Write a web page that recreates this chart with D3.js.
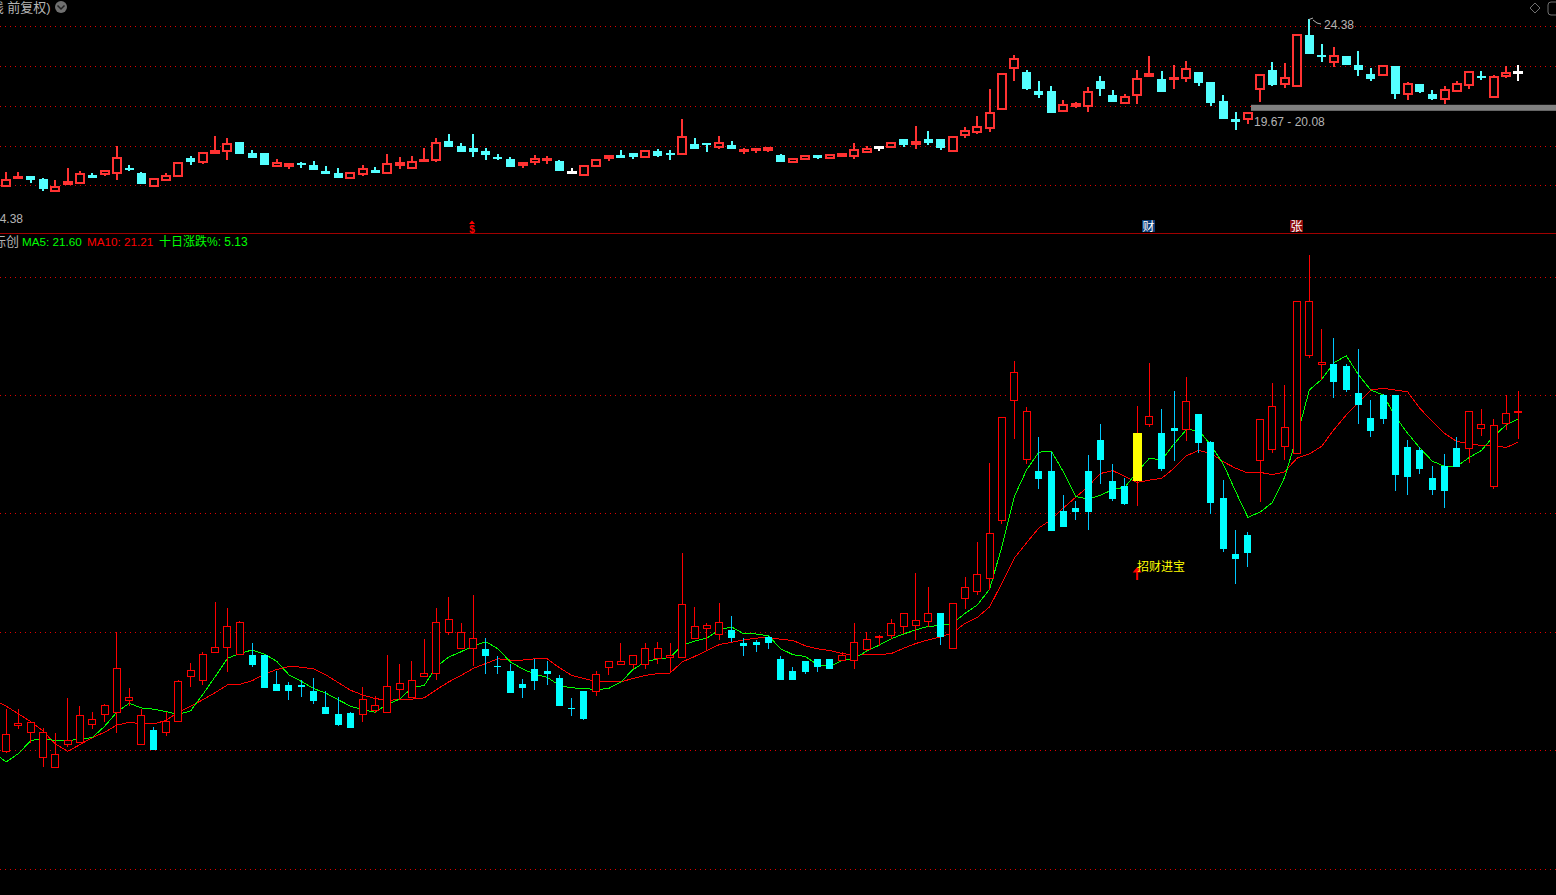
<!DOCTYPE html>
<html><head><meta charset="utf-8">
<script src="https://cdn.jsdelivr.net/npm/d3@7/dist/d3.min.js"></script>
<style>
html,body{margin:0;padding:0;background:#000;overflow:hidden}
svg{display:block}
text{font-family:"Liberation Sans","Noto Sans CJK SC",sans-serif}
</style></head><body>
<script>
const opens=[15.99,16.42,16.31,15.89,15.72,16.11,16.13,16.44,16.61,16.64,16.85,16.11,16.34,16.31,16.50,17.25,17.19,17.66,17.75,17.63,
17.62,17.62,17.13,17.11,17.11,17.00,16.73,16.61,16.64,16.61,16.68,16.65,17.04,16.90,17.25,17.31,18.00,17.73,17.73,17.72,
17.43,17.35,17.13,17.37,17.35,17.23,16.72,17.00,16.99,17.41,17.45,17.46,17.46,17.55,17.58,17.58,17.90,18.07,17.96,18.03,
17.81,17.84,17.92,17.54,17.35,17.52,17.55,17.54,17.52,17.52,17.70,17.93,17.94,18.10,18.12,18.18,18.33,17.73,18.57,18.69,
18.91,19.88,21.91,20.92,20.73,20.73,20.05,20.10,20.73,21.25,20.56,20.47,20.56,21.51,21.37,21.45,21.43,21.69,21.21,20.27,
19.32,19.65,20.90,21.09,21.14,21.02,22.68,22.52,22.53,22.50,22.04,21.62,22.01,22.01,21.13,21.08,20.61,20.81,21.11,21.10,
21.44,20.46,21.53,21.73];
const highs=[16.71,16.71,16.48,16.38,16.29,16.89,16.76,16.66,16.79,18.01,17.06,16.70,16.40,16.66,17.20,17.48,17.66,18.51,18.41,18.19,
17.81,17.62,17.35,17.16,17.20,17.23,17.00,16.91,16.65,17.07,16.93,17.62,17.47,17.51,17.89,18.41,18.60,18.15,18.63,17.90,
17.59,17.47,17.21,17.54,17.52,17.28,16.89,17.00,17.35,17.51,17.81,17.61,17.81,17.84,17.81,19.34,18.43,18.16,18.50,18.28,
17.90,17.86,17.94,17.59,17.42,17.52,17.55,17.54,17.67,18.16,18.01,17.96,18.23,18.32,19.00,18.77,18.33,18.48,18.94,19.53,
20.86,21.63,22.58,21.81,21.30,21.05,20.32,20.22,21.00,21.52,20.84,20.61,21.82,22.55,21.77,22.08,22.31,21.69,21.23,20.57,
19.73,19.70,21.60,22.21,22.18,23.59,24.38,23.12,22.97,22.53,22.78,21.92,22.03,22.01,21.25,21.13,20.81,21.01,21.30,21.73,
21.77,21.60,22.01,22.08];
const lows=[15.96,16.37,16.13,15.72,15.72,16.06,16.13,16.37,16.48,16.29,16.75,16.11,16.01,16.24,16.50,17.07,17.10,17.66,17.32,17.63,
17.42,17.05,17.00,16.86,16.91,16.79,16.61,16.42,16.39,16.49,16.64,16.65,16.86,16.90,17.25,17.20,17.95,17.73,17.43,17.30,
17.30,16.98,16.89,17.03,17.11,16.76,16.59,16.52,16.93,17.27,17.45,17.37,17.38,17.47,17.31,17.58,17.90,17.70,17.87,17.84,
17.59,17.67,17.72,17.20,17.20,17.30,17.33,17.38,17.52,17.37,17.69,17.76,17.89,17.97,17.87,18.08,17.79,17.73,18.40,18.63,
18.72,19.83,21.27,20.84,20.42,19.71,19.78,19.90,19.73,20.51,20.22,20.15,20.14,21.47,20.73,20.89,21.23,21.03,20.00,19.36,
18.82,19.10,20.20,21.03,20.91,21.02,22.63,22.26,21.96,22.06,21.52,21.30,21.52,20.39,20.32,20.67,20.32,20.10,20.79,20.86,
21.32,20.42,21.42,21.27];
const closes=[16.28,16.45,16.47,16.31,15.94,16.17,16.60,16.53,16.77,17.39,16.89,16.60,16.01,16.50,17.16,17.36,17.63,17.75,18.10,18.17,
17.45,17.05,17.00,17.01,17.08,16.84,16.61,16.44,16.39,16.87,16.77,17.09,17.14,17.19,17.31,18.17,18.21,18.00,17.90,17.59,
17.42,16.98,17.05,17.18,17.30,16.76,16.72,16.54,17.29,17.51,17.51,17.61,17.73,17.73,17.61,18.46,18.10,18.12,18.17,17.90,
17.77,17.79,17.81,17.20,17.20,17.33,17.42,17.38,17.60,17.82,17.87,17.93,18.15,18.32,18.19,18.32,17.92,18.48,18.75,18.97,
19.67,21.63,22.39,21.72,20.59,19.71,19.78,20.03,20.03,20.91,20.25,20.17,21.37,21.65,20.76,21.40,21.90,21.20,20.19,19.41,
19.24,19.34,21.60,21.82,21.45,23.59,23.59,22.56,22.23,22.09,21.84,21.40,21.60,20.66,20.62,20.76,20.40,20.39,20.79,21.72,
21.51,21.50,21.70,21.73];
// Colour of each bar in the upper panel: r = up, c = down, w = unchanged
const upperTone=("rrccrrrcrr"+"ccrrrcrrrc"+"ccrrccccrr"+"crrrrrcccc"+"ccrrrcwrrr"+"ccrccrccrc"+
"rrrcrrcrrr"+"rwrcrccrrr"+"rrrcccrrrc"+"crrrcrrccc"+"crrcrrccrc"+"ccrcrccrrr"+"crrw").split("");
// Moving averages: first entry belongs to the bar just left of the window
const ma5=[15.96,15.81,15.95,16.17,16.20,16.17,16.17,16.19,16.22,16.41,16.65,16.80,16.72,16.70,16.66,16.61,16.67,16.95,17.25,17.56,17.64,
17.70,17.63,17.51,17.28,17.17,17.05,16.97,16.86,16.75,16.69,16.65,16.78,16.87,17.06,17.10,17.42,17.58,17.67,17.77,17.84,
17.72,17.50,17.38,17.29,17.24,17.10,17.06,17.05,17.03,17.05,17.16,17.37,17.50,17.55,17.57,17.78,17.85,17.90,18.04,18.09,
17.97,17.97,17.94,17.72,17.62,17.59,17.45,17.42,17.52,17.56,17.68,17.78,17.89,17.97,18.04,18.10,18.11,18.15,18.32,18.46,
18.73,19.45,20.29,20.74,21.04,21.06,20.71,20.29,20.25,20.31,20.41,20.45,20.71,20.94,20.91,21.18,21.42,21.41,21.16,20.84,
20.38,19.94,20.03,20.19,20.62,21.31,22.09,22.27,22.55,22.67,22.35,22.09,22.01,21.64,21.36,21.11,20.89,20.80,20.80,20.95,
21.07,21.31,21.50,21.60];
const ma10=[16.86,16.75,16.62,16.49,16.33,16.11,15.99,16.10,16.22,16.31,16.43,16.48,16.45,16.45,16.51,16.65,16.75,16.86,16.98,17.11,17.12,
17.18,17.29,17.37,17.42,17.41,17.38,17.28,17.15,17.02,16.94,16.88,16.85,16.86,16.87,16.89,17.03,17.16,17.27,17.39,17.47,
17.55,17.53,17.53,17.55,17.55,17.40,17.27,17.22,17.16,17.16,17.16,17.22,17.27,17.30,17.31,17.50,17.59,17.69,17.79,17.83,
17.87,17.90,17.91,17.88,17.86,17.77,17.72,17.69,17.64,17.61,17.62,17.62,17.64,17.73,17.81,17.87,17.92,17.99,18.15,18.25,
18.43,18.83,19.25,19.51,19.76,19.90,20.10,20.28,20.46,20.68,20.73,20.63,20.53,20.57,20.60,20.77,20.98,21.07,21.02,20.88,
20.77,20.69,20.70,20.66,20.71,20.94,21.01,21.14,21.42,21.67,21.88,22.09,22.12,22.09,22.06,21.78,21.56,21.36,21.22,21.19,
21.15,21.15,21.12,21.21];
const priceTicks=[24,22,20,18,16,14];
const upperTicks=[24,22,20,18,16];
const yellowBars=[92];
const signalBar=92;
const band=[19.67,20.08];
const headerLeft="K线 前复权)";
const maLabels=[["MA5: 21.60","#00ff00",22],["MA10: 21.21","#ff0000",87],["十日涨跌%: 5.13","#00ff00",159]];

const W=1556,H=895;
const svg=d3.select("body").append("svg").attr("width",W).attr("height",H).style("background","#000");
const x=d3.scaleLinear().domain([0,123]).range([6.2,1518.3]);
const yTop=d3.scaleLinear().domain([14.38,24.38]).range([218,19.4]);
const yBot=d3.scaleLinear().domain([14,24]).range([869,277]);
const bars=d3.range(opens.length).map(i=>({i,o:opens[i],h:highs[i],l:lows[i],c:closes[i],tone:upperTone[i]}));

// gridlines via axes
function grid(scale,ticks){
  const g=svg.append("g").call(d3.axisRight(scale).tickValues(ticks).tickSize(W).tickFormat("").offset(0));
  g.select(".domain").remove();
  g.selectAll("line").attr("stroke","#e00000").attr("stroke-dasharray","1 4").attr("shape-rendering","crispEdges");
}
grid(yTop,upperTicks);
grid(yBot,priceTicks);

// divider
svg.append("line").attr("x1",0).attr("x2",W).attr("y1",233.5).attr("y2",233.5).attr("stroke","#a00000").attr("shape-rendering","crispEdges");

// upper candles
const upperCol={r:"#ff3232",c:"#54ffff",w:"#ffffff"};
const up=svg.append("g").attr("shape-rendering","crispEdges");
up.selectAll("line").data(bars).join("line")
  .attr("x1",d=>x(d.i)).attr("x2",d=>x(d.i)).attr("y1",d=>yTop(d.h)).attr("y2",d=>yTop(d.l))
  .attr("stroke",d=>upperCol[d.tone]).attr("stroke-width",2);
up.selectAll("rect").data(bars).join("rect")
  .attr("x",d=>x(d.i)-4).attr("width",8)
  .attr("y",d=>yTop(Math.max(d.o,d.c))).attr("height",d=>Math.max(1,Math.abs(yTop(d.o)-yTop(d.c))))
  .attr("fill",d=>d.tone==="r"?"#000":upperCol[d.tone])
  .attr("stroke",d=>upperCol[d.tone]).attr("stroke-width",d=>d.tone==="c"?1:2);

// grey band
svg.append("rect").attr("x",1251).attr("width",W-1251).attr("y",yTop(band[1])).attr("height",6).attr("fill","#808080");

// MA lines, then lower candles on top
const line=d3.line().x((d,k)=>x(k-1)).y(d=>yBot(d));
svg.append("path").attr("d",line(ma10)).attr("fill","none").attr("stroke","#ff0000").attr("shape-rendering","crispEdges");
svg.append("path").attr("d",line(ma5)).attr("fill","none").attr("stroke","#00ff00").attr("shape-rendering","crispEdges");

const isUp=d=>d.c>d.o||(d.c===d.o&&d.c>=closes[d.i-1]);
const lowCol=d=>isUp(d)?"#ff0000":"#00ffff";
const lo=svg.append("g").attr("shape-rendering","crispEdges");
lo.selectAll("line").data(bars).join("line")
  .attr("x1",d=>x(d.i)).attr("x2",d=>x(d.i)).attr("y1",d=>yBot(d.h)).attr("y2",d=>yBot(d.l))
  .attr("stroke",d=>isUp(d)?"#ff0000":"#00c8ff");
lo.selectAll("rect").data(bars).join("rect")
  .attr("x",d=>{const w=yellowBars.includes(d.i)?4.5:3.5;return x(d.i)-w;})
  .attr("width",d=>yellowBars.includes(d.i)?9:7)
  .attr("y",d=>yBot(Math.max(d.o,d.c))).attr("height",d=>Math.max(1,Math.abs(yBot(d.o)-yBot(d.c))))
  .attr("fill",d=>yellowBars.includes(d.i)?"#ffff00":isUp(d)?"#000":"#00ffff")
  .attr("stroke",d=>yellowBars.includes(d.i)?"#ffff00":lowCol(d)).attr("stroke-width",d=>isUp(d)&&!yellowBars.includes(d.i)?1:0);

// text labels
function txt(t,px,py,col,size,anchor){return svg.append("text").attr("x",px).attr("y",py).attr("fill",col).attr("font-size",size||12).attr("text-anchor",anchor||"start").text(t);}
txt(headerLeft,-18,12,"#b4b4b4",13);
svg.append("circle").attr("cx",61).attr("cy",7).attr("r",6).attr("fill","#707070");
svg.append("path").attr("d","M57.5 5.5L61 9L64.5 5.5").attr("fill","none").attr("stroke","#222").attr("stroke-width",1.5);
svg.append("path").attr("d","M1535 3L1540 8L1535 13L1530 8Z").attr("fill","none").attr("stroke","#707070");
svg.append("path").attr("d","M1556 2H1551Q1548 2 1548 5V12Q1548 15 1551 15H1556").attr("fill","none").attr("stroke","#707070");
txt("24.38",1324,29,"#b4b4b4",12);
svg.append("path").attr("d","M1309 19.5L1313 18M1313 20L1317 23L1321 24").attr("fill","none").attr("stroke","#b4b4b4");
txt("19.67 - 20.08",1254,126,"#b4b4b4",12);
txt("14.38",-7,223,"#b4b4b4",12);

// event marks
txt("$",472,232.5,"#ff0000",10,"middle").attr("font-weight","bold");
svg.append("path").attr("d","M472 220.5L475 224H469Z").attr("fill","#ff0000");
svg.append("rect").attr("x",1142).attr("y",220).attr("width",13).attr("height",12).attr("fill","#0a3c78");
txt("财",1148.5,230.5,"#ffffff",12,"middle");
svg.append("rect").attr("x",1290).attr("y",220).attr("width",13).attr("height",12).attr("fill","#8c0a0a");
txt("张",1296.5,230.5,"#ffffff",12,"middle");

// legend
txt("标创",-7,246,"#b4b4b4",13);
maLabels.forEach(m=>txt(m[0],m[2],246,m[1],m[0][0]==="M"?11.7:12));

// signal
const sx=x(signalBar);
svg.append("path").attr("d",`M${sx} 567L${sx+4.5} 572.5H${sx+1}V580H${sx-1}V572.5H${sx-4.5}Z`).attr("fill","#ff0000");
txt("招财进宝",1137,571,"#ffff00",12);
</script>
</body></html>
